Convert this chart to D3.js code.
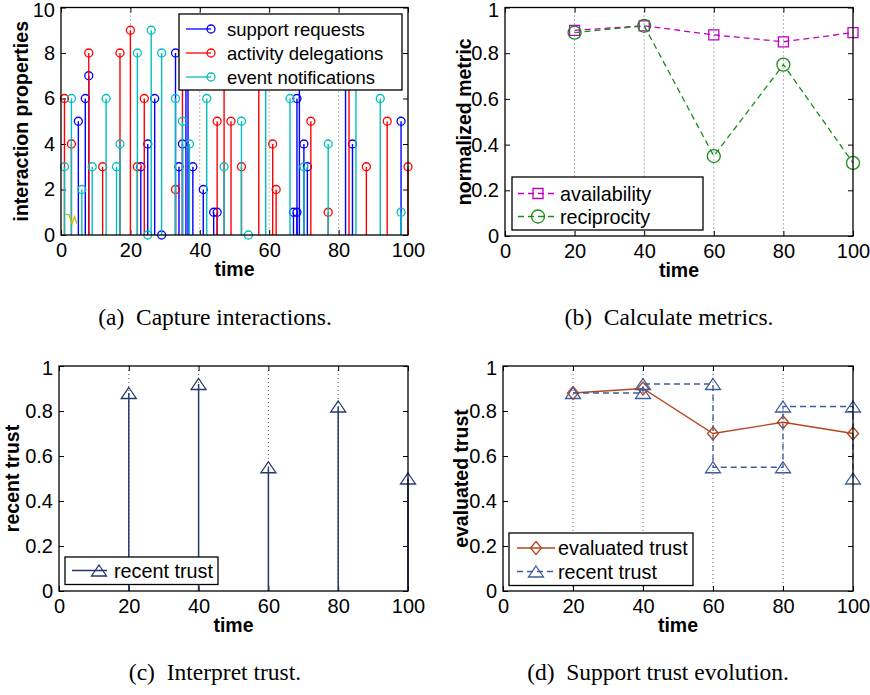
<!DOCTYPE html>
<html>
<head>
<meta charset="utf-8">
<script src="https://cdn.jsdelivr.net/npm/d3@7"></script>
<style>
  body { margin: 0; background: #fff; }
  svg text { font-family: "Liberation Sans", Arial, Helvetica, sans-serif; fill: #000; }
  svg text.caption { font-family: "Liberation Serif", "Times New Roman", serif; font-size: 23.5px; }
</style>
</head>
<body>
<svg id="fig" width="870" height="695"></svg>
<script>
// axis ticks
var timeTicks = [0, 20, 40, 60, 80, 100]
var gridTimes = [20, 40, 60, 80]
var countTicks = [0, 2, 4, 6, 8, 10]
var unitTicks = [0, 0.2, 0.4, 0.6, 0.8, 1]

// (a) captured interactions
var supportTime  = [5, 7, 8, 23, 25, 27, 29, 33, 34, 35, 36, 36.6, 38, 41, 44, 45, 67, 68, 68, 68.7, 70, 71, 82, 84, 98]
var supportCount = [5, 6, 7, 3, 4, 6, 0, 8, 3, 4, 8, 7, 3, 2, 1, 1, 1, 1, 6, 8, 4, 3, 9, 4, 5]
var delegationTime  = [1, 3, 8, 12, 17, 20, 22, 24, 33, 35, 45, 47, 49, 52, 57, 61, 62, 72, 77, 83, 88, 94, 100]
var delegationCount = [6, 4, 8, 3, 8, 9, 3, 6, 2, 8, 5, 7, 5, 3, 9, 4, 2, 5, 1, 8, 3, 5, 3]
var notificationTime  = [1, 3, 6, 9, 13, 16, 17, 22, 25, 26, 29, 33, 35, 37, 42, 47, 52, 54, 59, 66, 70, 77, 85, 92, 98]
var notificationCount = [3, 6, 2, 3, 6, 3, 4, 8, 0, 9, 8, 6, 5, 4, 6, 3, 5, 0, 8, 6, 3, 4, 7, 6, 1]
// the little yellow trace near the origin
var traceTime  = [1.2, 2.3, 3.2, 3.9, 4.6]
var traceValue = [0.9, 0.9, 0.5, 0.8, 0.5]

// (b) - (d)
var metricTime = [20, 40, 60, 80, 100]
var availability = [0.9, 0.92, 0.88, 0.85, 0.89]
var reciprocity = [0.89, 0.92, 0.35, 0.75, 0.32]
var recentTrust = [0.88, 0.92, 0.55, 0.82, 0.5]
var evaluatedTrust = [0.88, 0.9, 0.7, 0.75, 0.7]

var svg = d3.select('#fig')
svg.append('rect').attr('width', 870).attr('height', 695).attr('fill', '#fff')

var tri = 'M0,-5.5L7.5,5.5L-7.5,5.5Z'
var diamond = 'M0,-6.5L5.5,0L0,6.5L-5.5,0Z'
var square = 'M-5,-5H5V5H-5Z'

function panel(o) {
  var g = svg.append('g').attr('transform', 'translate(' + o.left + ',' + o.top + ')')
  var x = d3.scaleLinear().domain([0, 100]).range([0, o.width])
  var y = d3.scaleLinear().domain([0, o.yTicks[o.yTicks.length - 1]]).range([o.height, 0])

  g.append('g').selectAll('line').data(gridTimes).join('line')
    .attr('x1', x).attr('x2', x).attr('y1', 0).attr('y2', o.height)
    .attr('stroke', '#555').attr('stroke-width', 0.9).attr('stroke-dasharray', '1,3')

  var axes = g.append('g')
  axes.append('g').attr('transform', 'translate(0,' + o.height + ')')
    .call(d3.axisBottom(x).tickValues(timeTicks).tickSize(-5).tickSizeOuter(0).tickPadding(8))
  axes.append('g')
    .call(d3.axisTop(x).tickValues(timeTicks).tickSize(-5).tickSizeOuter(0).tickFormat(''))
  var yAxis = axes.append('g')
    .call(d3.axisLeft(y).tickValues(o.yTicks).tickSize(-5).tickSizeOuter(0).tickPadding(6).tickFormat(d3.format('~g')))
  axes.append('g').attr('transform', 'translate(' + o.width + ',0)')
    .call(d3.axisRight(y).tickValues(o.yTicks).tickSize(-5).tickSizeOuter(0).tickFormat(''))
  axes.selectAll('.domain').remove()
  axes.selectAll('.tick line').attr('stroke', '#000')
  axes.selectAll('g').attr('font-family', null).attr('font-size', null)
  axes.selectAll('.tick text').style('font-size', '20px')
  // top label sits a touch lower, as in the original figure
  yAxis.selectAll('.tick text').filter(function(t, i, n) { return i == n.length - 1 }).attr('y', 2.5)

  g.append('text').attr('x', o.width / 2).attr('y', o.height + 41)
    .attr('text-anchor', 'middle').style('font-size', '19.5px').style('font-weight', 'bold').text('time')
  g.append('text')
    .attr('transform', 'translate(' + o.yLabelX + ',' + o.height / 2 + ') rotate(-90)')
    .attr('dy', '0.35em').attr('text-anchor', 'middle')
    .style('font-size', '19.5px').style('font-weight', 'bold').text(o.yLabel)

  svg.append('text').attr('class', 'caption')
    .attr('x', o.captionX).attr('y', o.captionY).attr('text-anchor', 'middle').text(o.caption)

  var plot = g.append('g')
  return {g: g, plot: plot, x: x, y: y, width: o.width, height: o.height}
}

function box(p) {
  p.g.append('rect').attr('width', p.width).attr('height', p.height)
    .attr('fill', 'none').attr('stroke', '#000').attr('stroke-width', 1.3)
}

// legend: box in page coords, items {label, color, dash, marker}
function legend(b, items) {
  var g = svg.append('g')
  g.append('rect').attr('x', b.x).attr('y', b.y).attr('width', b.w).attr('height', b.h)
    .attr('fill', '#fff').attr('stroke', '#000').attr('stroke-width', 1.3)
  items.forEach(function(it, i) {
    var cy = b.rows[i]
    g.append('line').attr('x1', b.line[0]).attr('x2', b.line[1]).attr('y1', cy).attr('y2', cy)
      .attr('stroke', it.color).attr('stroke-width', 1.3).attr('stroke-dasharray', it.dash || null)
    it.marker(g.append('g').attr('transform', 'translate(' + b.mark + ',' + cy + ')'), it.color)
    g.append('text').attr('x', b.text).attr('y', cy).attr('dy', '0.36em')
      .style('font-size', b.font + 'px').text(it.label)
  })
}

function circleMark(r) {
  return function(sel, color) {
    sel.append('circle').attr('r', r).attr('fill', 'none').attr('stroke', color).attr('stroke-width', 1.3)
  }
}
function pathMark(d) {
  return function(sel, color) {
    sel.append('path').attr('d', d).attr('fill', 'none').attr('stroke', color).attr('stroke-width', 1.3)
  }
}

// ---- (a) Capture interactions
var a = panel({left: 61, top: 7.5, width: 347, height: 227.5, yTicks: countTicks,
  yLabel: 'interaction properties', yLabelX: -40,
  caption: '(a)\u2002Capture interactions.', captionX: 215, captionY: 325})

var stems = [
  {label: 'support requests', color: '#0000ff', t: supportTime, v: supportCount},
  {label: 'activity delegations', color: '#ff0000', t: delegationTime, v: delegationCount},
  {label: 'event notifications', color: '#00bfbf', t: notificationTime, v: notificationCount}
]
stems.forEach(function(s) {
  var pts = s.t.map(function(t, i) { return {t: t, v: s.v[i]} })
  var sg = a.plot.append('g')
  sg.selectAll('line').data(pts).join('line')
    .attr('x1', function(d) { return a.x(d.t) }).attr('x2', function(d) { return a.x(d.t) })
    .attr('y1', a.y(0)).attr('y2', function(d) { return a.y(d.v) })
    .attr('stroke', s.color).attr('stroke-width', 1.4)
  sg.selectAll('circle').data(pts).join('circle')
    .attr('cx', function(d) { return a.x(d.t) }).attr('cy', function(d) { return a.y(d.v) })
    .attr('r', 4).attr('fill', 'none').attr('stroke', s.color).attr('stroke-width', 1.3)
})
a.plot.append('path')
  .attr('d', d3.line().x(function(d, i) { return a.x(d) }).y(function(d, i) { return a.y(traceValue[i]) })(traceTime))
  .attr('fill', 'none').attr('stroke', '#c8c000').attr('stroke-width', 1.3)
box(a)
legend({x: 179, y: 14, w: 223, h: 76, rows: [29, 53, 77], line: [186, 211], mark: 211, text: 227, font: 18.5},
  stems.map(function(s) { return {label: s.label, color: s.color, marker: circleMark(4)} }))

// ---- (b) Calculate metrics
var b = panel({left: 505, top: 7.5, width: 348, height: 228.5, yTicks: unitTicks,
  yLabel: 'normalized metric', yLabelX: -41,
  caption: '(b)\u2002Calculate metrics.', captionX: 669, captionY: 325})

var metrics = [
  {label: 'availability', color: '#c000c0', v: availability, marker: pathMark(square)},
  {label: 'reciprocity', color: '#1a8c1a', v: reciprocity, marker: circleMark(6.5)}
]
metrics.forEach(function(m) {
  var line = d3.line().x(function(d, i) { return b.x(metricTime[i]) }).y(function(d) { return b.y(d) })
  b.plot.append('path').attr('d', line(m.v)).attr('fill', 'none')
    .attr('stroke', m.color).attr('stroke-width', 1.3).attr('stroke-dasharray', '6,4')
  m.v.forEach(function(v, i) {
    m.marker(b.plot.append('g').attr('transform', 'translate(' + b.x(metricTime[i]) + ',' + b.y(v) + ')'), m.color)
  })
})
box(b)
legend({x: 512, y: 177, w: 191, h: 53, rows: [193.5, 216.5], line: [518, 557], mark: 538, text: 560, font: 19.8},
  metrics.map(function(m) { return {label: m.label, color: m.color, dash: '6,4', marker: m.marker} }))

// ---- (c) Interpret trust
var navy = '#22386c'
var c = panel({left: 59, top: 366, width: 349, height: 225, yTicks: unitTicks,
  yLabel: 'recent trust', yLabelX: -47,
  caption: '(c)\u2002Interpret trust.', captionX: 215, captionY: 680})

c.plot.selectAll('line').data(recentTrust).join('line')
  .attr('x1', function(d, i) { return c.x(metricTime[i]) }).attr('x2', function(d, i) { return c.x(metricTime[i]) })
  .attr('y1', c.y(0)).attr('y2', function(d) { return c.y(d) })
  .attr('stroke', navy).attr('stroke-width', 1.5)
c.plot.selectAll('path').data(recentTrust).join('path')
  .attr('d', tri)
  .attr('transform', function(d, i) { return 'translate(' + c.x(metricTime[i]) + ',' + c.y(d) + ')' })
  .attr('fill', 'none').attr('stroke', navy).attr('stroke-width', 1.3)
box(c)
legend({x: 65, y: 557, w: 153, h: 27.5, rows: [570.5], line: [72, 107], mark: 99, text: 114, font: 19.8},
  [{label: 'recent trust', color: navy, marker: pathMark(tri)}])

// ---- (d) Support trust evolution
var brown = '#b5441b'
var blue = '#3d5c9c'
var d = panel({left: 503, top: 366, width: 350, height: 225, yTicks: unitTicks,
  yLabel: 'evaluated trust', yLabelX: -42,
  caption: '(d)\u2002Support trust evolution.', captionX: 658, captionY: 680})

d.plot.append('path')
  .attr('d', d3.line().x(function(v, i) { return d.x(metricTime[i]) }).y(function(v) { return d.y(v) })(evaluatedTrust))
  .attr('fill', 'none').attr('stroke', brown).attr('stroke-width', 1.3)
evaluatedTrust.forEach(function(v, i) {
  pathMark(diamond)(d.plot.append('g').attr('transform', 'translate(' + d.x(metricTime[i]) + ',' + d.y(v) + ')'), brown)
})

// recent trust drawn as stairs, a marker at every corner
d.plot.append('path')
  .attr('d', d3.line().curve(d3.curveStepAfter)
    .x(function(v, i) { return d.x(metricTime[i]) }).y(function(v) { return d.y(v) })(recentTrust))
  .attr('fill', 'none').attr('stroke', blue).attr('stroke-width', 1.3).attr('stroke-dasharray', '6,4')
var corners = []
recentTrust.forEach(function(v, i) {
  corners.push([metricTime[i], v])
  if (i < recentTrust.length - 1) corners.push([metricTime[i + 1], v])
})
corners.forEach(function(p) {
  pathMark(tri)(d.plot.append('g').attr('transform', 'translate(' + d.x(p[0]) + ',' + d.y(p[1]) + ')'), blue)
})
box(d)
legend({x: 509, y: 533, w: 184, h: 52.5, rows: [548, 571.5], line: [517, 555], mark: 536, text: 558, font: 19.8},
  [{label: 'evaluated trust', color: brown, marker: pathMark(diamond)},
   {label: 'recent trust', color: blue, dash: '6,4', marker: pathMark(tri)}])
</script>
</body>
</html>
